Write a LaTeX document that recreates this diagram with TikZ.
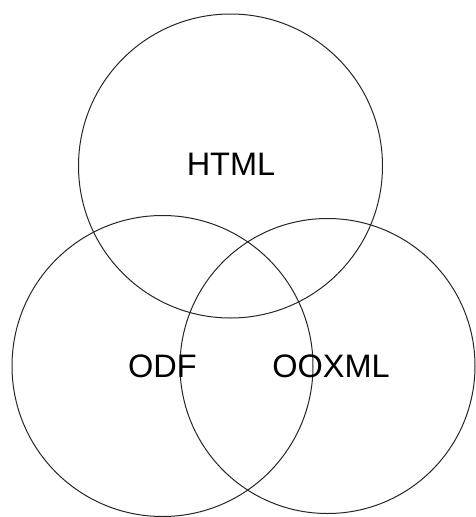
\documentclass[tikz,border=0pt]{standalone}
\usepackage{fontspec}
\setmainfont{Liberation Sans}
\begin{document}
\begin{tikzpicture}[x=1pt,y=-1pt,
  ring/.style={draw=black!85,line width=1pt},
  lbl/.style={font=\fontsize{32.5}{36}\selectfont,text=black,inner sep=0pt}]
\useasboundingbox (0,0) rectangle (475,517);
\draw[ring] (230.5,166) circle (152);
\draw[ring] (162.5,366) circle (150.5);
\draw[ring] (327.5,366) circle (147.5);
\node[lbl] (html) at (231,164) {HTML};
\node[lbl] (odf) at (162.5,366.5) {ODF};
\node[lbl] (ooxml) at (331,366.5) {OOXML};
\end{tikzpicture}
\end{document}
